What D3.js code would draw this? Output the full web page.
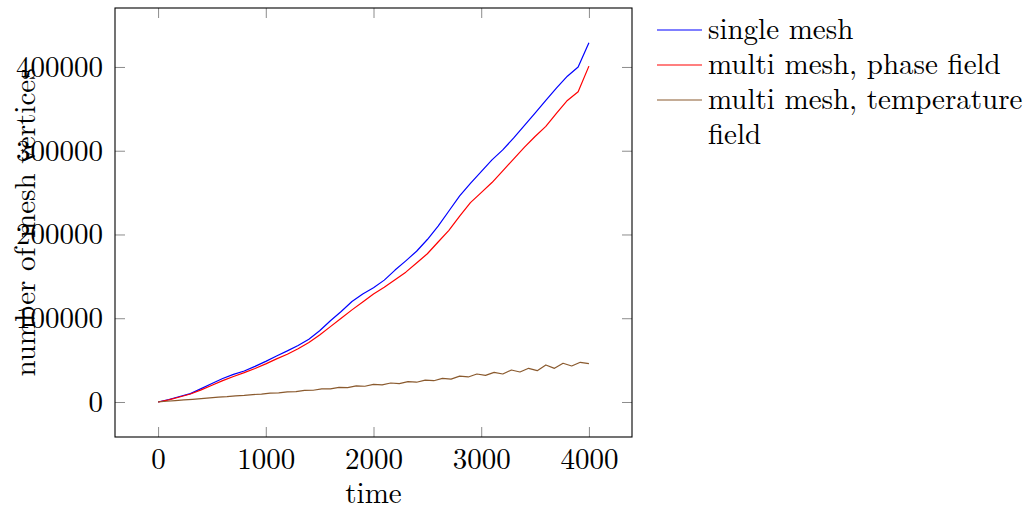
<!DOCTYPE html>
<html>
<head>
<meta charset="utf-8">
<script src="https://cdn.jsdelivr.net/npm/d3@7"></script>
<style>
  body { margin: 0; background: #fff; }
  svg text { font-family: "Latin Modern Roman", "Computer Modern", "Liberation Serif", serif; fill: #000; }
</style>
</head>
<body>
<svg width="1032" height="511"></svg>
<script>
// readings
var timeSteps = [0, 100, 200, 300, 400, 500, 600, 700, 800, 900, 1000,
    1100, 1200, 1300, 1400, 1500, 1600, 1700, 1800, 1900, 2000,
    2100, 2200, 2300, 2400, 2500, 2600, 2700, 2800, 2900, 3000,
    3100, 3200, 3300, 3400, 3500, 3600, 3700, 3800, 3900, 4000];

var singleMesh = [0, 3000, 6500, 10000, 16000, 22000, 28000, 33000, 37000, 42500, 48500,
    55000, 61000, 67500, 75000, 85000, 97000, 108000, 120000, 129000, 136500,
    145500, 157500, 168500, 180000, 194000, 210000, 228000, 246000, 261000, 275000,
    289000, 301000, 315000, 330000, 345000, 360000, 375000, 389000, 400000, 429000];

var multiPhase = [0, 2500, 6000, 9500, 14500, 20000, 25500, 30500, 35000, 40000, 45500,
    51500, 57000, 63500, 71000, 80000, 90000, 100000, 110000, 119500, 129000,
    137000, 146000, 155000, 166000, 177000, 191000, 205000, 222000, 238000, 250000,
    262000, 276000, 290000, 304000, 317000, 329000, 345000, 360000, 370500, 401000];

var timeStepsTemp = [0, 80, 160, 240, 320, 400, 480, 560, 640, 720, 800,
    880, 960, 1040, 1120, 1200, 1280, 1360, 1440, 1520, 1600,
    1680, 1760, 1840, 1920, 2000, 2080, 2160, 2240, 2320, 2400,
    2480, 2560, 2640, 2720, 2800, 2880, 2960, 3040, 3120, 3200,
    3280, 3360, 3440, 3520, 3600, 3680, 3760, 3840, 3920, 4000];

var multiTemp = [0, 900, 1600, 2500, 3200, 4100, 4800, 5700, 6300, 7300, 7800,
    8900, 9300, 10500, 10900, 12100, 12400, 13800, 14000, 15600, 15600,
    17400, 17200, 19200, 18800, 21000, 20400, 22700, 22000, 24400, 23600,
    26200, 25400, 28200, 27300, 30800, 29900, 33400, 31800, 35400, 33400,
    38200, 35800, 40200, 37400, 44200, 40200, 46200, 43000, 47400, 45700];

var xTicks = [0, 1000, 2000, 3000, 4000];
var yTicks = [0, 100000, 200000, 300000, 400000];

var seriesNames = ["single mesh", "multi mesh, phase field", "multi mesh, temperature"];
var seriesColors = ["#0000ff", "#ff0000", "#8a5a2e"];

function createChart() {
    var svg = d3.select("svg"),
        margin = { top: 8, left: 115 },
        width = 517,
        height = 429,
        g = svg.append("g").attr("transform", "translate(" + margin.left + "," + margin.top + ")");

    var x = d3.scaleLinear().domain([-400, 4400]).range([0, width]);
    var y = d3.scaleLinear().domain([-41800, 470400]).range([height, 0]);

    var series = [
        { name: seriesNames[0], color: seriesColors[0], xs: timeSteps, ys: singleMesh },
        { name: seriesNames[1], color: seriesColors[1], xs: timeSteps, ys: multiPhase },
        { name: seriesNames[2], color: seriesColors[2], xs: timeStepsTemp, ys: multiTemp }
    ];

    var tickLen = 10, fontSize = 29;

    // axes, ticks pointing inside like pgfplots
    var bottom = g.append("g")
        .attr("transform", "translate(0," + height + ")")
        .call(d3.axisBottom(x).tickValues(xTicks).tickSizeInner(-tickLen).tickSizeOuter(0).tickFormat(d3.format("d")));
    var top = g.append("g")
        .call(d3.axisTop(x).tickValues(xTicks).tickSizeInner(-tickLen).tickSizeOuter(0).tickFormat(""));
    var left = g.append("g")
        .call(d3.axisLeft(y).tickValues(yTicks).tickSizeInner(-tickLen).tickSizeOuter(0).tickPadding(12).tickFormat(d3.format("d")));
    var right = g.append("g")
        .attr("transform", "translate(" + width + ",0)")
        .call(d3.axisRight(y).tickValues(yTicks).tickSizeInner(-tickLen).tickSizeOuter(0).tickFormat(""));

    [bottom, top, left, right].forEach(function(a) {
        a.select(".domain").remove();
        a.selectAll(".tick line").attr("stroke", "#8c8c8c").attr("stroke-width", 1);
        a.selectAll("text").attr("font-size", fontSize).style("font-family", null);
    });
    bottom.selectAll("text").attr("y", 32).attr("dy", 0);

    var line = d3.line()
        .x(function(d) { return x(d[0]); })
        .y(function(d) { return y(d[1]); });

    g.selectAll(".series")
        .data(series)
        .enter().append("path")
        .attr("class", "series")
        .attr("fill", "none")
        .attr("stroke", function(d) { return d.color; })
        .attr("stroke-width", 1.2)
        .attr("stroke-linejoin", "round")
        .attr("d", function(d) {
            return line(d.xs.map(function(t, i) { return [t, d.ys[i]]; }));
        });

    // frame
    g.append("rect")
        .attr("width", width)
        .attr("height", height)
        .attr("fill", "none")
        .attr("stroke", "#000")
        .attr("stroke-width", 1.1);

    // axis labels
    g.append("text")
        .attr("x", width / 2)
        .attr("y", height + 66)
        .attr("text-anchor", "middle")
        .attr("font-size", fontSize)
        .text("time");

    g.append("text")
        .attr("transform", "translate(" + (-80) + "," + (height / 2) + ") rotate(-90)")
        .attr("text-anchor", "middle")
        .attr("font-size", fontSize)
        .text("number of mesh vertices");

    // legend
    var legend = svg.append("g")
        .attr("transform", "translate(657,30)");

    var rows = legend.selectAll("g")
        .data(series)
        .enter().append("g")
        .attr("transform", function(d, i) { return "translate(0," + i * 35 + ")"; });

    rows.append("line")
        .attr("x1", 0).attr("x2", 45)
        .attr("stroke", function(d) { return d.color; })
        .attr("stroke-width", 1.2);

    rows.append("text")
        .attr("x", 51)
        .attr("y", 9)
        .attr("font-size", fontSize)
        .text(function(d) { return d.name; });

    legend.append("text")
        .attr("x", 51)
        .attr("y", 9 + 3 * 35)
        .attr("font-size", fontSize)
        .text("field");
}

createChart();
</script>
</body>
</html>
